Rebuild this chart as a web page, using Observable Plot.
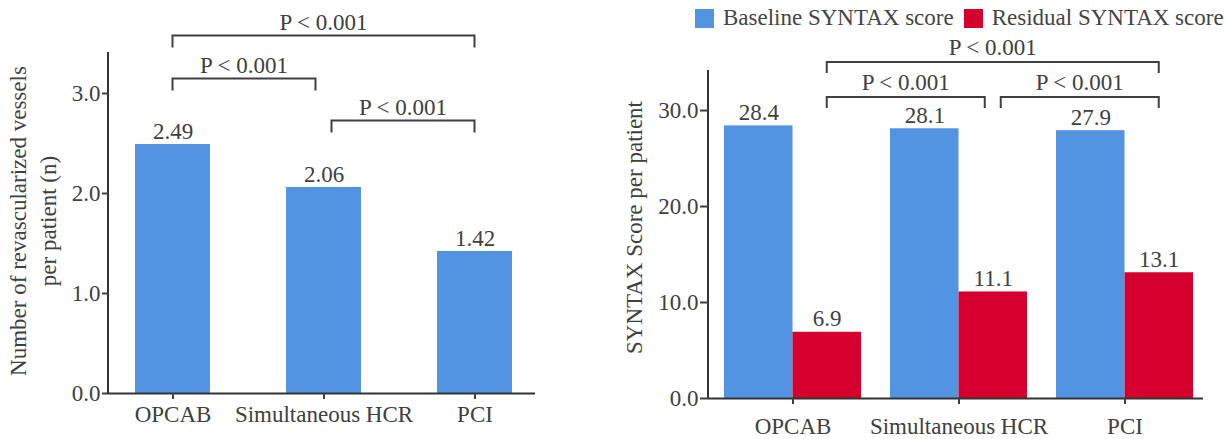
<!DOCTYPE html>
<html>
<head>
<meta charset="utf-8">
<script src="https://cdn.jsdelivr.net/npm/d3@7"></script>
<script src="https://cdn.jsdelivr.net/npm/@observablehq/plot@0.6"></script>
<style>
  html, body { margin: 0; padding: 0; background: #fff; }
  #wrap { position: relative; width: 1228px; height: 439px; display: flex; overflow: hidden; }
  .legend { position: absolute; left: 695px; top: 5px; display: flex; align-items: center;
            font-family: "Liberation Serif", serif; font-size: 23px; color: #444; white-space: nowrap; }
  .legend .item { display: flex; align-items: center; margin-right: 10px; }
  .legend .sw { width: 19px; height: 19px; display: inline-block; margin-right: 9px; }
</style>
</head>
<body>
<div id="wrap">
  <div id="left"></div>
  <div id="right"></div>
  <div class="legend" id="legend"></div>
</div>
<script>
// ---------- data ----------
const groups = ["OPCAB", "Simultaneous HCR", "PCI"];
const vessels = [2.49, 2.06, 1.42];
const seriesNames = ["Baseline SYNTAX score", "Residual SYNTAX score"];
const baselineScores = [28.4, 28.1, 27.9];
const residualScores = [6.9, 11.1, 13.1];
const vesselTicks = [0, 1, 2, 3];
const syntaxTicks = [0, 10, 20, 30];
const vesselLabel = "Number of revascularized vessels\nper patient (n)";
const syntaxLabel = "SYNTAX Score per patient";
const vesselBrackets = [
  {from: "OPCAB", to: "PCI", level: 3.575, label: "P < 0.001"},
  {from: "OPCAB", to: "Simultaneous HCR", level: 3.145, label: "P < 0.001"},
  {from: "Simultaneous HCR", to: "PCI", level: 2.725, label: "P < 0.001"}
];
const syntaxBrackets = [
  {from: "OPCAB", to: "PCI", level: 35.0, label: "P < 0.001"},
  {from: "OPCAB", to: "Simultaneous HCR", level: 31.35, label: "P < 0.001"},
  {from: "Simultaneous HCR", to: "PCI", level: 31.35, label: "P < 0.001"}
];

// ---------- style ----------
const BLUE = "#5294e2";
const RED = "#d5002d";
const INK = "#404040";
const FONT = "'Liberation Serif', 'Times New Roman', serif";
const FS = 23;

// tables
const vesselData = groups.map((g, i) => ({group: g, value: vessels[i]}));
const syntaxData = groups.flatMap((g, i) => [
  {group: g, series: seriesNames[0], value: baselineScores[i]},
  {group: g, series: seriesNames[1], value: residualScores[i]}
]);

// render helpers (use Plot's own scales)
function yAxisLine() {
  return (index, scales, values, dims) => {
    const g = d3.create("svg:g");
    g.append("line")
      .attr("x1", dims.marginLeft).attr("x2", dims.marginLeft)
      .attr("y1", dims.marginTop).attr("y2", dims.height - dims.marginBottom)
      .attr("stroke", "#333").attr("stroke-width", 2);
    return g.node();
  };
}
function bracketMark(data, {anchor = 0, gap = 8, tick = 12, labelGap = 6} = {}) {
  return (index, scales, values, dims) => {
    const x = scales.x, y = scales.y;
    const bw = typeof x.bandwidth === "function" ? x.bandwidth() : x.bandwidth;
    const pos = (c) => x(c) + bw / 2 + anchor * bw;
    const g = d3.create("svg:g");
    for (const b of data) {
      const shareStart = data.some((o) => o !== b && o.to === b.from);
      const shareEnd = data.some((o) => o !== b && o.from === b.to);
      const x1 = pos(b.from) + (shareStart ? gap : 0);
      const x2 = pos(b.to) - (shareEnd ? gap : 0);
      const yy = y(b.level);
      g.append("path")
        .attr("d", `M${x1},${yy + tick}V${yy}H${x2}V${yy + tick}`)
        .attr("fill", "none").attr("stroke", INK).attr("stroke-width", 2);
      g.append("text")
        .attr("x", (x1 + x2) / 2).attr("y", yy - labelGap)
        .attr("text-anchor", "middle").attr("fill", INK)
        .attr("font-family", FONT).attr("font-size", FS)
        .text(b.label);
    }
    return g.node();
  };
}

// ---------- left panel ----------
const left = Plot.plot({
  width: 580, height: 439,
  marginLeft: 108, marginRight: 45, marginTop: 52, marginBottom: 46,
  style: {fontFamily: FONT, fontSize: FS + "px", color: INK, background: "#fff", overflow: "visible"},
  x: {type: "band", domain: groups, paddingInner: 0.504, paddingOuter: 0.164, align: 0.545, axis: null},
  y: {domain: [0, 3.41], axis: null},
  marks: [
    Plot.barY(vesselData, {x: "group", y: "value", fill: BLUE}),
    Plot.text(vesselData, {x: "group", y: "value", text: (d) => d3.format(".2f")(d.value), lineAnchor: "bottom", dy: -6, fill: INK, fontSize: FS}),
    Plot.ruleY([0], {stroke: "#333", strokeWidth: 2}),
    yAxisLine(),
    Plot.axisY({ticks: vesselTicks, tickFormat: d3.format(".1f"), tickSize: 6, tickPadding: 2, strokeWidth: 2, label: null, fontSize: FS}),
    Plot.axisX({tickSize: 6, tickPadding: 6, strokeWidth: 2, label: null, fontSize: FS}),
    Plot.text([vesselLabel], {frameAnchor: "left", textAnchor: "middle", lineAnchor: "middle", rotate: -90, dx: -77, dy: -2, lineHeight: 1.3, fill: INK, fontSize: FS}),
    bracketMark(vesselBrackets, {anchor: 0, gap: 8, tick: 12, labelGap: 6})
  ]
});
document.getElementById("left").appendChild(left);

// ---------- right panel ----------
const rxOpts = {type: "band", domain: groups, paddingInner: 0.175, paddingOuter: 0.078, align: 0.6};
const rWidth = 648, rMarginLeft = 128, rMarginRight = 25;
const rbw = Plot.scale({x: {...rxOpts, range: [rMarginLeft, rWidth - rMarginRight]}}).bandwidth;
const right = Plot.plot({
  width: rWidth, height: 439,
  marginLeft: rMarginLeft, marginRight: rMarginRight, marginTop: 70, marginBottom: 41,
  style: {fontFamily: FONT, fontSize: FS + "px", color: INK, background: "#fff", overflow: "visible"},
  x: {...rxOpts, axis: null},
  y: {domain: [0, 34.17], axis: null},
  marks: [
    Plot.barY(syntaxData.filter((d) => d.series === seriesNames[0]), {x: "group", y: "value", fill: BLUE, insetRight: rbw / 2}),
    Plot.barY(syntaxData.filter((d) => d.series === seriesNames[1]), {x: "group", y: "value", fill: RED, insetLeft: rbw / 2}),
    Plot.text(syntaxData.filter((d) => d.series === seriesNames[0]), {x: "group", y: "value", text: (d) => d3.format(".1f")(d.value), lineAnchor: "bottom", dy: -6, dx: -rbw / 4, fill: INK, fontSize: FS}),
    Plot.text(syntaxData.filter((d) => d.series === seriesNames[1]), {x: "group", y: "value", text: (d) => d3.format(".1f")(d.value), lineAnchor: "bottom", dy: -6, dx: rbw / 4, fill: INK, fontSize: FS}),
    Plot.ruleY([0], {stroke: "#333", strokeWidth: 2}),
    yAxisLine(),
    Plot.axisY({ticks: syntaxTicks, tickFormat: d3.format(".1f"), tickSize: 8, tickPadding: 2, strokeWidth: 2, label: null, fontSize: FS}),
    Plot.axisX({tickSize: 6, tickPadding: 13, strokeWidth: 2, label: null, fontSize: FS}),
    Plot.text([syntaxLabel], {frameAnchor: "left", textAnchor: "middle", lineAnchor: "middle", rotate: -90, dx: -74, dy: -7, fill: INK, fontSize: FS}),
    bracketMark(syntaxBrackets, {anchor: 0.25, gap: 8, tick: 11, labelGap: 7})
  ]
});
document.getElementById("right").appendChild(right);

// ---------- legend ----------
const legend = document.getElementById("legend");
[[seriesNames[0], BLUE], [seriesNames[1], RED]].forEach(([name, color]) => {
  const item = document.createElement("span");
  item.className = "item";
  const sw = document.createElement("span");
  sw.className = "sw";
  sw.style.background = color;
  item.appendChild(sw);
  item.appendChild(document.createTextNode(name));
  legend.appendChild(item);
});
</script>
</body>
</html>
